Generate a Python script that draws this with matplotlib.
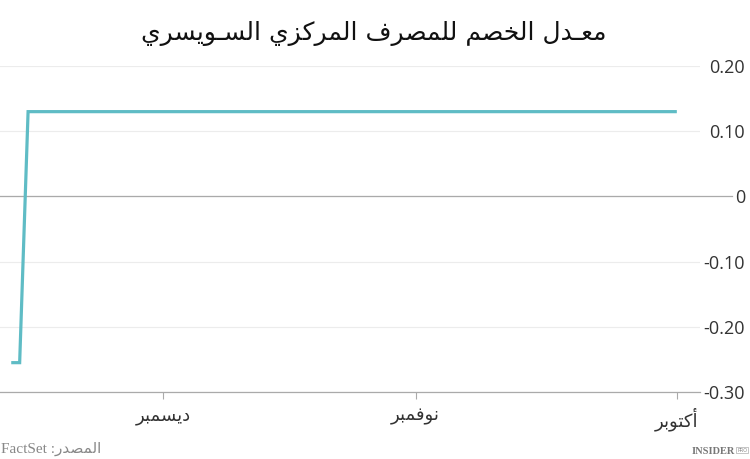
import matplotlib
matplotlib.use("Agg")
import matplotlib.pyplot as plt
import pandas as pd

# ---------------- data ----------------
title_text = "معـدل الخصم للمصرف المركزي السـويسري"
source_text = "المصدر: FactSet"
dates = ["2022-10-01", "2022-12-17", "2022-12-18", "2022-12-19"]
rates = [0.13, 0.13, -0.255, -0.255]
month_ticks = ["2022-12-01", "2022-11-01", "2022-10-01"]
month_labels = ["ديسمبر", "نوفمبر", "أكتوبر"]
y_ticks = [0.20, 0.10, 0.0, -0.10, -0.20, -0.30]
y_labels = ["0.20", "0.10", "0", "-0.10", "-0.20", "-0.30"]

# ------------- minimal Arabic shaping (logical -> visual) -------------
FORMS = {
    '\u0627': ('\uFE8D', '\uFE8E', None, None),
    '\u0623': ('\uFE83', '\uFE84', None, None),
    '\u0628': ('\uFE8F', '\uFE90', '\uFE91', '\uFE92'),
    '\u062A': ('\uFE95', '\uFE96', '\uFE97', '\uFE98'),
    '\u062E': ('\uFEA5', '\uFEA6', '\uFEA7', '\uFEA8'),
    '\u062F': ('\uFEA9', '\uFEAA', None, None),
    '\u0631': ('\uFEAD', '\uFEAE', None, None),
    '\u0632': ('\uFEAF', '\uFEB0', None, None),
    '\u0633': ('\uFEB1', '\uFEB2', '\uFEB3', '\uFEB4'),
    '\u0635': ('\uFEB9', '\uFEBA', '\uFEBB', '\uFEBC'),
    '\u0639': ('\uFEC9', '\uFECA', '\uFECB', '\uFECC'),
    '\u0641': ('\uFED1', '\uFED2', '\uFED3', '\uFED4'),
    '\u0643': ('\uFED9', '\uFEDA', '\uFEDB', '\uFEDC'),
    '\u0644': ('\uFEDD', '\uFEDE', '\uFEDF', '\uFEE0'),
    '\u0645': ('\uFEE1', '\uFEE2', '\uFEE3', '\uFEE4'),
    '\u0646': ('\uFEE5', '\uFEE6', '\uFEE7', '\uFEE8'),
    '\u0648': ('\uFEED', '\uFEEE', None, None),
    '\u064A': ('\uFEF1', '\uFEF2', '\uFEF3', '\uFEF4'),
    '\u0640': ('\u0640', '\u0640', '\u0640', '\u0640'),
}


def shape(s):
    out = []
    for i, c in enumerate(s):
        if c not in FORMS:
            out.append(c)
            continue
        prev = s[i - 1] if i > 0 else None
        nxt = s[i + 1] if i + 1 < len(s) else None
        jp = prev in FORMS and FORMS[prev][2] is not None
        jn = FORMS[c][2] is not None and nxt in FORMS
        if jp and jn:
            f = FORMS[c][3]
        elif jp:
            f = FORMS[c][1]
        elif jn:
            f = FORMS[c][2]
        else:
            f = FORMS[c][0]
        out.append(f)
    return "".join(out)


def visual(s):
    s = shape(s)
    runs = []
    for c in s:
        ltr = c.isascii() and c.isalnum()
        if runs and runs[-1][0] == ltr:
            runs[-1][1].append(c)
        else:
            runs.append([ltr, [c]])
    res = []
    for ltr, chars in reversed(runs):
        res.append("".join(chars) if ltr else "".join(reversed(chars)))
    return "".join(res)


# ---------------- figure ----------------
W, H = 750, 459
fig = plt.figure(figsize=(W / 100, H / 100), dpi=100)
fig.patch.set_facecolor("white")

ax = fig.add_axes([0, 1 - 392 / H, 700 / W, (392 - 66) / H])
x = pd.to_datetime(dates)
ax.plot(x, rates, color="#5fbcc5", lw=2.3, solid_capstyle="butt",
        solid_joinstyle="miter", zorder=3)

ax.set_ylim(-0.30, 0.20)
ax.set_xlim(pd.Timestamp("2022-12-20 08:00"), pd.Timestamp("2022-09-28 06:00"))

# y axis on right
ax.yaxis.tick_right()
ax.set_yticks(y_ticks)
ax.set_yticklabels(y_labels, fontsize=13, color="#333333", family="Open Sans")
ax.tick_params(axis="y", length=0, pad=45 * 72 / 100)
for lab in ax.get_yticklabels():
    lab.set_horizontalalignment("right")

ax.grid(axis="y", color="#ececec", lw=0.8)
ax.axhline(0, xmin=0, xmax=732 / 700, color="#aaaaaa", lw=0.9, clip_on=False, zorder=2)

# x axis
ax.set_xticks(pd.to_datetime(month_ticks))
ax.set_xticklabels([visual(m) for m in month_labels], fontsize=13,
                   color="#333333", family="DejaVu Sans")
ax.tick_params(axis="x", length=5, color="#aaaaaa", width=0.8, pad=6)

for side in ["top", "right", "left"]:
    ax.spines[side].set_visible(False)
ax.spines["bottom"].set_color("#aaaaaa")
ax.spines["bottom"].set_linewidth(0.9)

# title
fig.text(374 / W, 1 - 33 / H, visual(title_text), ha="center", va="center",
         fontsize=18, color="#111111", family="DejaVu Sans")

# source
fig.text(1 / W, 1 - 449 / H, visual(source_text), ha="left", va="center",
         fontsize=11, color="#888888", family=["Liberation Serif", "DejaVu Sans"])

# logo
fig.text(735 / W, 1 - 452 / H, "INSIDER", ha="right", va="center", fontsize=7.5,
         color="#777777", family="Liberation Serif", fontweight="bold")
fig.text(737 / W, 1 - 450 / H, "PRO", ha="left", va="center", fontsize=3.5,
         color="#888888", family="DejaVu Sans",
         bbox=dict(boxstyle="square,pad=0.15", fc="white", ec="#999999", lw=0.4))

fig.savefig("out.png", dpi=100)
